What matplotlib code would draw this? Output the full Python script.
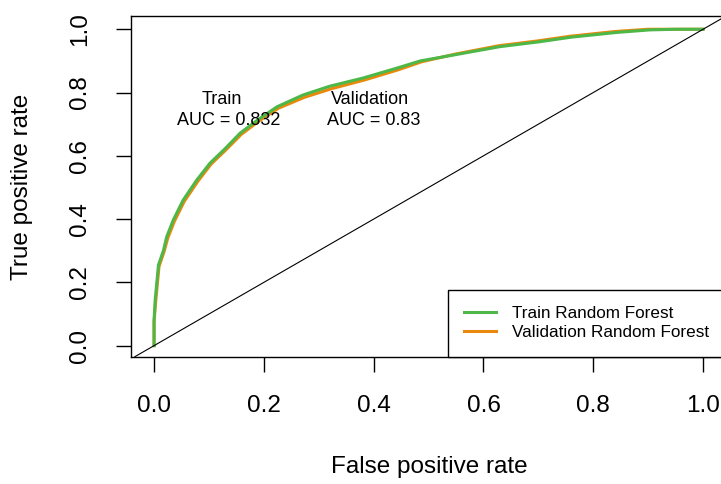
import numpy as np
import matplotlib
matplotlib.use("Agg")
from matplotlib import pyplot as plt

plt.rcParams['font.family'] = ['Liberation Sans', 'DejaVu Sans']

# ROC points (false positive rate, true positive rate)
train_fpr = [0, 0, 0.002, 0.008, 0.017, 0.023, 0.035, 0.053, 0.078, 0.102, 0.129,
             0.157, 0.19, 0.224, 0.271, 0.32, 0.381, 0.442, 0.485, 0.55, 0.63,
             0.7, 0.76, 0.843, 0.903, 0.95, 1.0]
train_tpr = [0, 0.08, 0.144, 0.255, 0.30, 0.344, 0.397, 0.46, 0.524, 0.577, 0.622,
             0.672, 0.715, 0.755, 0.792, 0.82, 0.846, 0.877, 0.9, 0.92, 0.945,
             0.96, 0.975, 0.99, 0.998, 1.0, 1.0]

valid_fpr = [0, 0, 0.003, 0.009, 0.018, 0.025, 0.037, 0.055, 0.08, 0.104, 0.131,
             0.159, 0.192, 0.226, 0.274, 0.323, 0.384, 0.445, 0.487, 0.55, 0.628,
             0.698, 0.758, 0.84, 0.9, 0.95, 1.0]
valid_tpr = [0, 0.075, 0.14, 0.25, 0.296, 0.34, 0.393, 0.456, 0.52, 0.574, 0.619,
             0.668, 0.711, 0.75, 0.785, 0.812, 0.84, 0.872, 0.897, 0.922, 0.948,
             0.963, 0.978, 0.993, 1.0, 1.0, 1.0]

train_auc = 0.832
valid_auc = 0.83
ticks = [0.0, 0.2, 0.4, 0.6, 0.8, 1.0]

fig = plt.figure(figsize=(7.21, 4.84), dpi=100)
ax = fig.add_axes([0.1817, 0.263, 0.8239, 0.704])

ax.plot(valid_fpr, valid_tpr, color='#E8890C', lw=2.2)
ax.plot(train_fpr, train_tpr, color='#4DB848', lw=2.2)
ax.axline((0, 0), (1, 1), color='black', lw=0.8)

ax.set_xlim(-0.042, 1.04)
ax.set_ylim(-0.035, 1.042)
ax.set_xticks(ticks)
ax.set_yticks(ticks)
ax.set_xticklabels([f"{t:.1f}" for t in ticks])
ax.set_yticklabels([f"{t:.1f}" for t in ticks], rotation=90, va='center')
ax.tick_params(axis='both', direction='out', length=10.5, width=1,
               labelsize=17.5, colors='black')
ax.tick_params(axis='x', pad=17)
ax.tick_params(axis='y', pad=18)
for s in ax.spines.values():
    s.set_linewidth(1)
    s.set_color('black')

fig.text(0.595, 1 - 467 / 484, 'False positive rate', ha='center', va='center', fontsize=17.5)
fig.text(22 / 721, 1 - 187 / 484, 'True positive rate', ha='center', va='center',
         rotation=90, fontsize=17.5)

ax.text(0.123, 0.778, 'Train', ha='center', va='center', fontsize=13)
ax.text(0.136, 0.712, f'AUC = {train_auc}', ha='center', va='center', fontsize=13)
ax.text(0.3925, 0.778, 'Validation', ha='center', va='center', fontsize=13)
ax.text(0.4007, 0.712, f'AUC = {valid_auc}', ha='center', va='center', fontsize=13)

h1, = ax.plot([], [], color='#4DB848', lw=2.2)
h2, = ax.plot([], [], color='#E8890C', lw=2.2)
leg = ax.legend([h1, h2], ['Train Random Forest', 'Validation Random Forest'],
                loc='lower right', bbox_to_anchor=(1, 0), borderaxespad=0,
                fancybox=False, edgecolor='black', framealpha=1, fontsize=12.3,
                handlelength=1.9, handletextpad=0.9, borderpad=0.95,
                labelspacing=0.25)
leg.get_frame().set_linewidth(1)

fig.savefig('out.png', dpi=100)
